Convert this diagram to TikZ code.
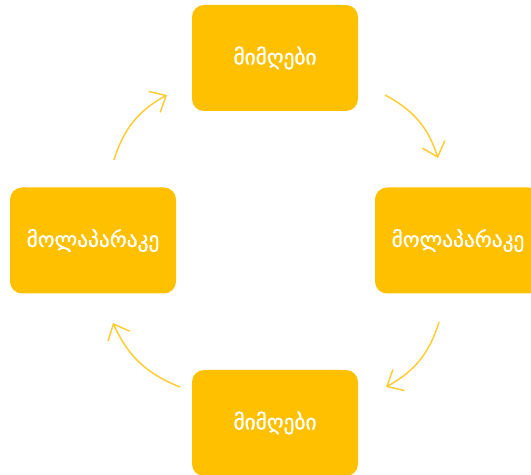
\documentclass[tikz,border=0pt]{standalone}
\usepackage{fontspec}
\newfontfamily\geofont[Script=Georgian, FakeBold=1.3]{DejaVu Sans}
\usetikzlibrary{arrows.meta}
\definecolor{boxgold}{HTML}{FFC000}
\tikzset{
	stagebox/.style={fill=boxgold, draw=none, rounded corners=9pt, minimum width=124.5pt, minimum height=79.5pt, text=white, font=\geofont\fontsize{16}{19}\selectfont},
	cyclearrow/.style={draw=boxgold, draw opacity=0.8, line width=1.1pt, -{Straight Barb[length=10pt,width=18pt]}, bend left=22}
}

\begin{document}
\begin{tikzpicture}[x=0.75pt, y=0.75pt]
		%%%%% START %%%%%
		
		\useasboundingbox (0, 0) rectangle (531, 474);
		\clip (0, 0) rectangle (531, 474);
		
		\node[stagebox] (top) at (275, 416) {მიმღები};
		\node[stagebox] (left) at (93, 233.5) {მოლაპარაკე};
		\node[stagebox] (right) at (458, 233.5) {მოლაპარაკე};
		\node[stagebox] (bottom) at (275, 51) {მიმღები};
		
		\coordinate (a1s) at (114, 314);
		\coordinate (a1e) at (167, 379);
		\coordinate (a2s) at (385, 379);
		\coordinate (a2e) at (438, 316);
		\coordinate (a3s) at (439, 152);
		\coordinate (a3e) at (386, 87);
		\coordinate (a4s) at (180, 87);
		\coordinate (a4e) at (113, 151);
		
		\draw[cyclearrow] (a1s) to (a1e);
		\draw[cyclearrow] (a2s) to (a2e);
		\draw[cyclearrow] (a3s) to (a3e);
		\draw[cyclearrow] (a4s) to (a4e);
		
		%%%%% END %%%%%
\end{tikzpicture}
\end{document}
